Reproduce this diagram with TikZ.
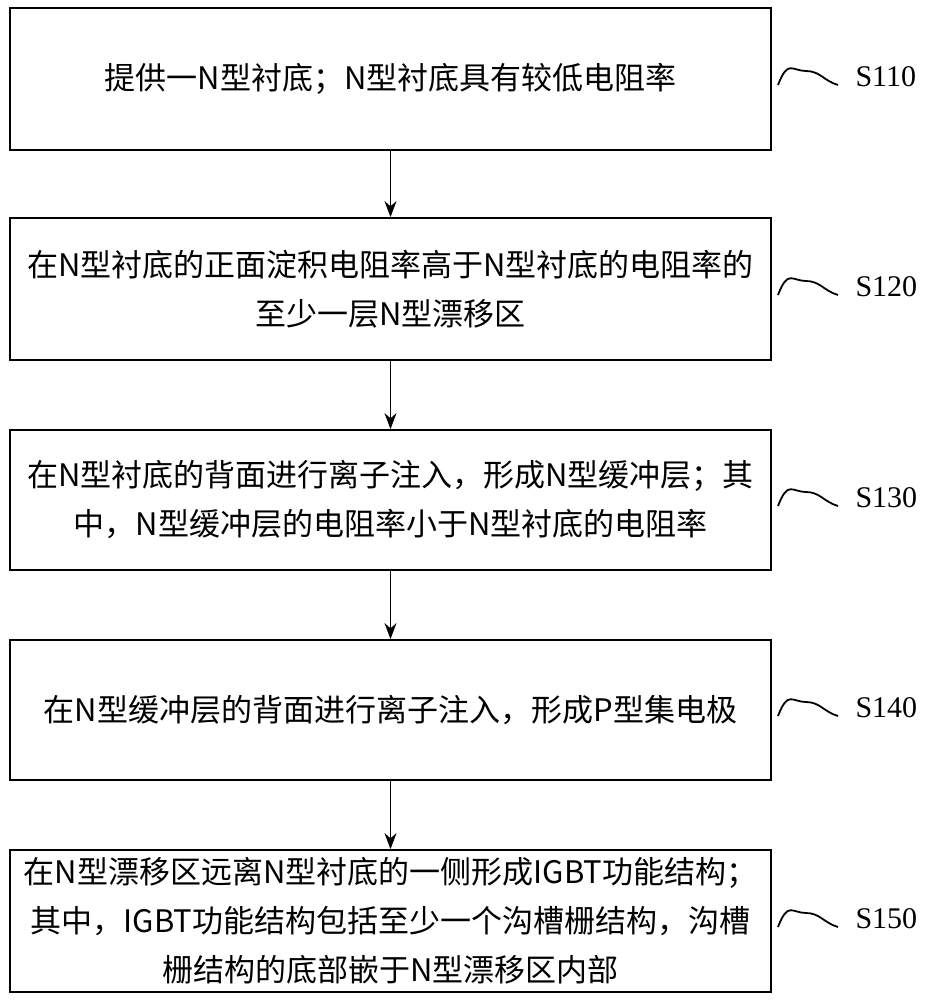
\documentclass[tikz,border=0pt]{standalone}
\usepackage{fontspec}
\setmainfont{Liberation Serif}
\newfontfamily\cjk{Noto Sans CJK SC}
\usetikzlibrary{arrows.meta}
\begin{document}
\begin{tikzpicture}[x=1pt,y=-1pt,
 box/.style={draw,line width=1.8pt,minimum width=761pt,inner sep=0pt,align=center,font=\cjk\fontsize{31}{49}\selectfont},
 arr/.style={-{Stealth[length=16pt,width=12pt]},line width=1.8pt},
 lab/.style={font=\fontsize{30}{32}\selectfont}]
\useasboundingbox (0,0) rectangle (925,1000);
\node[box,minimum height=142pt] (b1) at (390.5,79) {提供一N型衬底；N型衬底具有较低电阻率};
\node[box,minimum height=142pt] (b2) at (390.5,289) {在N型衬底的正面淀积电阻率高于N型衬底的电阻率的\\至少一层N型漂移区};
\node[box,minimum height=140pt] (b3) at (390.5,500) {在N型衬底的背面进行离子注入，形成N型缓冲层；其\\中，N型缓冲层的电阻率小于N型衬底的电阻率};
\node[box,minimum height=140pt] (b4) at (390.5,710) {在N型缓冲层的背面进行离子注入，形成P型集电极};
\node[box,minimum height=142pt] (b5) at (390.5,921) {在N型漂移区远离N型衬底的一侧形成IGBT功能结构；\\其中，IGBT功能结构包括至少一个沟槽栅结构，沟槽\\栅结构的底部嵌于N型漂移区内部};
\draw[arr] (b1) -- (b2);
\draw[arr] (b2) -- (b3);
\draw[arr] (b3) -- (b4);
\draw[arr] (b4) -- (b5);
\foreach \n/\y/\t in {1/79/S110,2/289/S120,3/500/S130,4/710/S140,5/921/S150}{
 \coordinate (w\n) at (778,\y+6);
 \draw[line width=1.8pt] (w\n) .. controls +(10,-26) and +(-14,0) .. ++(28,-14) .. controls +(14,0) and +(-14,-4) .. ++(32,14);
 \node[lab,anchor=west] (s\n) at (852,\y-2) {\t};
}
\end{tikzpicture}
\end{document}
